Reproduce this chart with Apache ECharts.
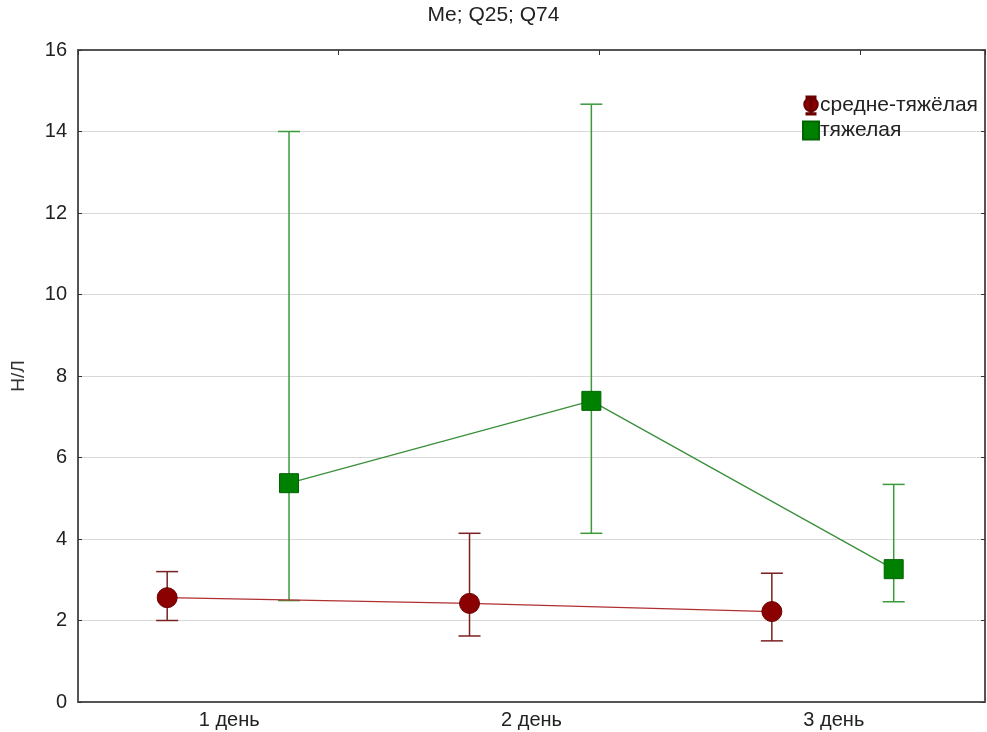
<!DOCTYPE html>
<html>
<head>
<meta charset="utf-8">
<script src="https://cdn.jsdelivr.net/npm/echarts@6/dist/echarts.min.js"></script>
<style>
  html, body { margin: 0; padding: 0; background: #fff; }
  #chart { width: 987px; height: 732px; }
</style>
</head>
<body>
<div id="chart"></div>
<script>
// categories
const days = ['1 день', '2 день', '3 день'];
const seriesNames = ['средне-тяжёлая', 'тяжелая'];

// средне-тяжёлая: median, Q25, Q74
const medMid = [2.56, 2.42, 2.22];
const q25Mid = [2.0, 1.62, 1.5];
const q75Mid = [3.2, 4.14, 3.16];

// тяжелая: median, Q25, Q74
const medSev = [5.37, 7.39, 3.26];
const q25Sev = [2.49, 4.14, 2.46];
const q75Sev = [14.0, 14.67, 5.34];

const yTicks = [0, 2, 4, 6, 8, 10, 12, 14, 16];

// horizontal shift of each group inside a category band
const shiftMid = -0.205;
const shiftSev = 0.198;

const FONT = '"Liberation Sans", Arial, sans-serif';
const RED = '#8b0000';
const GREEN = '#008000';

// legend glyph: circle with a small error bar through it
const ICON_MID = 'path://M3,0H13V1.5H3Z M7.2,0H8.8V20H7.2Z M3,18.5H13V20H3Z M0.5,9A7.5,7.5 0 1 1 15.5,9A7.5,7.5 0 1 1 0.5,9Z';

const points = (vals, shift) => vals.map((v, i) => [i + shift, v]);
const bars = (lo, hi, shift) => lo.map((v, i) => [i + shift, v, hi[i]]);

const errorBars = (color) => (params, api) => {
	const x = api.value(0);
	const lo = api.coord([x, api.value(1)]);
	const hi = api.coord([x, api.value(2)]);
	const w = 11;
	const style = { stroke: color, lineWidth: 1.5 };
	return {
		type: 'group',
		children: [
			{ type: 'line', shape: { x1: lo[0], y1: lo[1], x2: hi[0], y2: hi[1] }, style },
			{ type: 'line', shape: { x1: lo[0] - w, y1: lo[1], x2: lo[0] + w, y2: lo[1] }, style },
			{ type: 'line', shape: { x1: hi[0] - w, y1: hi[1], x2: hi[0] + w, y2: hi[1] }, style },
		],
	};
};

const chart = echarts.init(document.getElementById('chart'), null, { renderer: 'canvas' });

chart.setOption({
	backgroundColor: '#fff',
	animation: false,
	textStyle: { fontFamily: FONT },
	title: {
		text: 'Me; Q25; Q74',
		left: 'center',
		top: 5,
		padding: [0, 0, 0, -52],
		textStyle: { fontSize: 21, fontWeight: 'normal', color: '#222', fontFamily: FONT },
	},
	legend: {
		data: [
			{ name: seriesNames[0], icon: ICON_MID },
			{ name: seriesNames[1], icon: 'rect' },
		],
		orient: 'vertical',
		left: 797,
		top: 90,
		itemGap: 4,
		itemWidth: 16,
		itemHeight: 18,
		textStyle: { fontSize: 21, color: '#222', padding: [0, 0, 0, -4] },
	},
	grid: { left: 78, right: 2, top: 50, bottom: 30 },
	xAxis: [
		{
			type: 'category',
			data: days,
			position: 'bottom',
			axisLine: { lineStyle: { color: '#555', width: 2 } },
			axisTick: { inside: true, alignWithLabel: true, length: 5, lineStyle: { color: '#333' } },
			axisLabel: { fontSize: 20, color: '#222', margin: 8 },
			splitLine: { show: false },
		},
		{
			type: 'value',
			min: -0.5,
			max: 2.5,
			show: false,
		},
		{
			type: 'value',
			position: 'top',
			min: 0,
			max: 3.48,
			interval: 1,
			axisLine: { show: true, onZero: false, lineStyle: { color: '#555', width: 2 } },
			axisTick: { show: true, inside: true, length: 5, lineStyle: { color: '#333' } },
			axisLabel: { show: false },
			splitLine: { show: false },
		},
	],
	yAxis: [
		{
			type: 'value',
			min: 0,
			max: 16,
			interval: 2,
			name: 'Н/Л',
			nameLocation: 'middle',
			nameGap: 50,
			nameTextStyle: { fontSize: 19, color: '#333' },
			axisLine: { show: true, onZero: false, lineStyle: { color: '#555', width: 2 } },
			axisTick: { show: true, inside: true, length: 4, lineStyle: { color: '#333' } },
			axisLabel: {
				fontSize: 20,
				color: '#222',
				margin: 11,
				formatter: (v) => (yTicks.includes(v) ? String(v) : ''),
			},
			splitLine: { show: true, lineStyle: { color: '#d8d8d8', width: 1 } },
		},
		{
			type: 'value',
			position: 'right',
			min: 0,
			max: 16,
			interval: 2,
			axisLine: { show: true, onZero: false, lineStyle: { color: '#555', width: 2 } },
			axisTick: { show: true, inside: true, length: 4, lineStyle: { color: '#333' } },
			axisLabel: { show: false },
			splitLine: { show: false },
		},
	],
	series: [
		{
			name: 'err-mid',
			type: 'custom',
			xAxisIndex: 1,
			yAxisIndex: 0,
			renderItem: errorBars('#7a2020'),
			data: bars(q25Mid, q75Mid, shiftMid),
			z: 2,
		},
		{
			name: 'err-sev',
			type: 'custom',
			xAxisIndex: 1,
			yAxisIndex: 0,
			renderItem: errorBars('#3c9a3c'),
			data: bars(q25Sev, q75Sev, shiftSev),
			z: 2,
		},
		{
			name: seriesNames[0],
			type: 'line',
			xAxisIndex: 1,
			yAxisIndex: 0,
			data: points(medMid, shiftMid),
			symbol: 'circle',
			symbolSize: 20,
			itemStyle: { color: RED, borderColor: '#6a0000', borderWidth: 1 },
			lineStyle: { color: '#b03030', width: 1.3 },
			z: 3,
		},
		{
			name: seriesNames[1],
			type: 'line',
			xAxisIndex: 1,
			yAxisIndex: 0,
			data: points(medSev, shiftSev),
			symbol: 'rect',
			symbolSize: 19,
			itemStyle: { color: GREEN, borderColor: '#006400', borderWidth: 1 },
			lineStyle: { color: '#3a8f3a', width: 1.3 },
			z: 3,
		},
	],
});
</script>
</body>
</html>
